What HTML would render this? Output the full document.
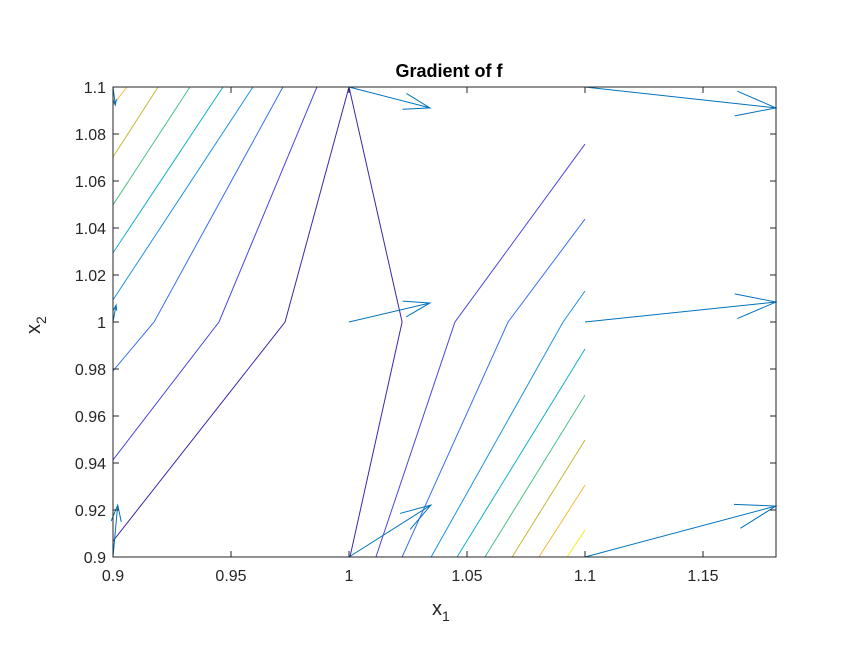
<!DOCTYPE html>
<html><head><meta charset="utf-8"><style>
body{margin:0;background:#fff;}
svg{display:block;font-family:"Liberation Sans",sans-serif;}
</style></head><body>
<svg id="chart" width="859" height="667">
<rect width="859" height="667" fill="#fff"/>
<text x="449" y="77" text-anchor="middle" font-size="18" font-weight="bold" fill="#000">Gradient of f</text>
<text x="432" y="615" font-size="20" fill="#262626">x<tspan font-size="14" dy="6">1</tspan></text>
<g transform="translate(40,334) rotate(-90)"><text x="0" y="0" font-size="20" fill="#262626">x<tspan font-size="14" dy="6">2</tspan></text></g>
<g id="plot"></g>
</svg>
<script>
const xTicks=[0.9,0.95,1,1.05,1.1,1.15];
const xTickLabels=["0.9","0.95","1","1.05","1.1","1.15"];
const yTicks=[0.9,0.92,0.94,0.96,0.98,1,1.02,1.04,1.06,1.08,1.1];
const yTickLabels=["0.9","0.92","0.94","0.96","0.98","1","1.02","1.04","1.06","1.08","1.1"];
const levelColors=["#3e26a8","#4a44e6","#3b6ef5","#1d92e6","#13b0c8","#4ac286","#c4b933","#fbb83a","#f5ee1a"];
// contour polylines in data coords, with level index per line
const contourLevels=[7,6,5,4,3,2,1,0,0,1,2,3,4,5,6,7,8];
const contourLines=[
[[0.9059,1.1],[0.9,1.0923]],
[[0.9191,1.1],[0.9,1.0702]],
[[0.9326,1.1],[0.9,1.0498]],
[[0.9466,1.1],[0.9,1.0294]],
[[0.9593,1.1],[0.9,1.0094]],
[[0.9720,1.1],[0.9174,1.0],[0.9,0.9792]],
[[0.9864,1.1],[0.9449,1.0],[0.9,0.9413]],
[[1.0,1.1],[0.9729,1.0],[0.9,0.9068]],
[[1.0,1.1],[1.0225,1.0],[1.0004,0.9]],
[[1.1,1.0757],[1.0449,1.0],[1.0114,0.9]],
[[1.1,1.0438],[1.0674,1.0],[1.0225,0.9]],
[[1.1,1.0132],[1.0907,1.0],[1.0348,0.9]],
[[1.1,0.9885],[1.0458,0.9]],
[[1.1,0.9689],[1.0576,0.9]],
[[1.1,0.9498],[1.0691,0.9]],
[[1.1,0.9306],[1.0805,0.9]],
[[1.1,0.9115],[1.0924,0.9]]
];
const qx=[0.9,1.0,1.1,0.9,1.0,1.1,0.9,1.0,1.1];
const qy=[1.1,1.1,1.1,1.0,1.0,1.0,0.9,0.9,0.9];
const qu=[0.001,0.0343,0.0809,0.0013,0.0343,0.0809,0.002,0.0347,0.0809];
const qv=[-0.0077,-0.0089,-0.0089,0.0072,0.0081,0.0085,0.0221,0.0221,0.0217];

const L=113,R=776,T=87,B=557;
const X0=0.9,X1=0.9+(R-L)/2360,Y0=0.9,Y1=1.1;
const sx=v=>L+(v-X0)/(X1-X0)*(R-L);
const sy=v=>B-(v-Y0)/(Y1-Y0)*(B-T);
const NS="http://www.w3.org/2000/svg";
const plot=document.getElementById('plot');
function mk(tag,attrs,parent){const e=document.createElementNS(NS,tag);for(const k in attrs)e.setAttribute(k,attrs[k]);(parent||plot).appendChild(e);return e;}

const clip=mk('clipPath',{id:'cp'});mk('rect',{x:L,y:T,width:R-L,height:B-T},clip);
const cg=mk('g',{'clip-path':'url(#cp)'});


contourLines.forEach((pts,i)=>{
  const p=mk('polyline',{points:pts.map(q=>sx(q[0])+','+sy(q[1])).join(' '),fill:'none',stroke:levelColors[contourLevels[i]],'stroke-width':1},cg);
  
  
});
const qg=mk('g',{});


for(let i=0;i<qx.length;i++){
  const x0=sx(qx[i]),y0=sy(qy[i]),x1=sx(qx[i]+qu[i]),y1=sy(qy[i]+qv[i]);
  const dx=x1-x0,dy=y1-y0,len=Math.hypot(dx,dy)||1;
  const h=Math.min(0.33*len,42),ang=0.3;
  const ux=dx/len,uy=dy/len,c=Math.cos(ang),s=Math.sin(ang);
  const p1=[x1-h*(ux*c-uy*s),y1-h*(uy*c+ux*s)],p2=[x1-h*(ux*c+uy*s),y1-h*(uy*c-ux*s)];
  const p=mk('path',{d:`M${x0},${y0}L${x1},${y1}M${p1[0]},${p1[1]}L${x1},${y1}L${p2[0]},${p2[1]}`,fill:'none',stroke:'#0072bd','stroke-width':1},qg);
  
  
}
const ax=mk('g',{});


mk('rect',{x:L,y:T,width:R-L,height:B-T,fill:'none',stroke:'#262626','stroke-width':1},ax);
xTicks.forEach((v,i)=>{
  const x=sx(v);
  mk('line',{x1:x,y1:B,x2:x,y2:B-6,stroke:'#262626'},ax);
  mk('line',{x1:x,y1:T,x2:x,y2:T+6,stroke:'#262626'},ax);
  const t=mk('text',{x:x,y:B+24,'text-anchor':'middle','font-size':16,fill:'#262626'},ax);
  t.textContent=xTickLabels[i];
  
  
});
yTicks.forEach((v,i)=>{
  const y=sy(v);
  mk('line',{x1:L,y1:y,x2:L+6,y2:y,stroke:'#262626'},ax);
  mk('line',{x1:R,y1:y,x2:R-6,y2:y,stroke:'#262626'},ax);
  const t=mk('text',{x:L-7,y:y+6,'text-anchor':'end','font-size':16,fill:'#262626'},ax);
  t.textContent=yTickLabels[i];
  
  
});
</script>
</body></html>
